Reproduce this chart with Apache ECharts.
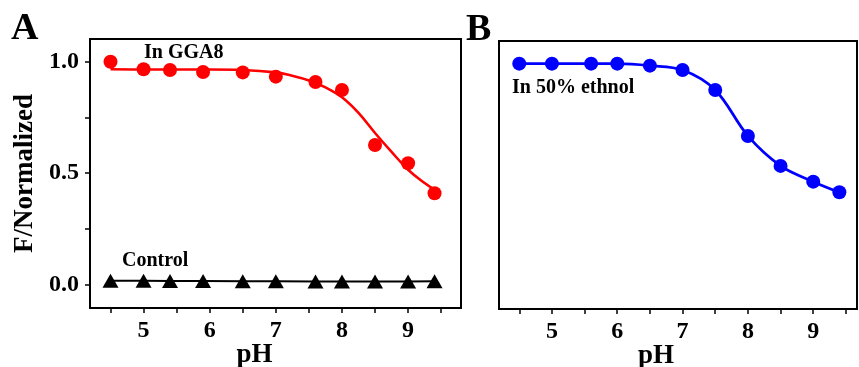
<!DOCTYPE html>
<html>
<head>
<meta charset="utf-8">
<script src="https://cdn.jsdelivr.net/npm/echarts@6/dist/echarts.min.js"></script>
<style>html,body{margin:0;padding:0;background:#fff;}#c{width:859px;height:367px;}</style>
</head>
<body>
<div id="c"></div>
<script>
// Panel A data
var phA = [4.5, 5.0, 5.4, 5.9, 6.5, 7.0, 7.6, 8.0, 8.5, 9.0, 9.4];
var gga8 = [1.0, 0.966, 0.963, 0.954, 0.952, 0.933, 0.909, 0.873, 0.626, 0.544, 0.409];
var control = [0.016, 0.016, 0.015, 0.015, 0.014, 0.014, 0.013, 0.013, 0.013, 0.013, 0.014];
// Fitted curve
var fitPH = [4.5, 5.0, 5.5, 6.0, 6.5, 7.0, 7.25, 7.5, 7.75, 8.0, 8.25, 8.5, 8.75, 9.0, 9.25, 9.4];
var fitVal = [0.966, 0.965, 0.965, 0.965, 0.963, 0.952, 0.937, 0.916, 0.885, 0.84, 0.77, 0.68, 0.595, 0.515, 0.455, 0.425];
// Panel B data
var phB = [4.5, 5.0, 5.6, 6.0, 6.5, 7.0, 7.5, 8.0, 8.5, 9.0, 9.4];
var ethanol = [1.0, 1.0, 1.0, 1.0, 0.991, 0.971, 0.881, 0.674, 0.539, 0.468, 0.420];
// Tick labels
var xTickLabels = [5, 6, 7, 8, 9];
var xTicks = [4.5, 5, 5.5, 6, 6.5, 7, 7.5, 8, 8.5, 9, 9.5];
var yTickLabels = [0, 0.5, 1.0];
var yTicks = [0, 0.25, 0.5, 0.75, 1.0];

function pairs(xs, ys) { return xs.map(function (x, i) { return [x, ys[i]]; }); }

var FONT = '"Liberation Serif", "Times New Roman", serif';
var chart = echarts.init(document.getElementById('c'));

function xAxisCfg(gi, max, padR) {
  return {
    type: 'value', gridIndex: gi, min: 4.19, max: max,
    name: 'pH', nameLocation: 'middle', nameGap: 34, nameMoveOverlap: false,
    nameTextStyle: { fontFamily: FONT, fontWeight: 'bold', fontSize: 27, color: '#000', padding: [0, padR, 0, 0] },
    axisLine: { show: true, onZero: false, lineStyle: { color: '#000', width: 2 } },
    axisTick: { show: true, length: 5, lineStyle: { color: '#000', width: 1.5 }, customValues: xTicks },
    axisLabel: { show: true, margin: 11, fontFamily: FONT, fontWeight: 'bold', fontSize: 24, color: '#000', customValues: xTickLabels },
    splitLine: { show: false }
  };
}

var option = {
  backgroundColor: '#fff',
  animation: false,
  grid: [
    { left: 90, top: 39, width: 371, height: 269, show: true, borderColor: '#000', borderWidth: 2, outerBoundsMode: 'none', containLabel: false },
    { left: 499, top: 41, width: 358, height: 268, show: true, borderColor: '#000', borderWidth: 2, outerBoundsMode: 'none', containLabel: false }
  ],
  xAxis: [ xAxisCfg(0, 9.8, 42), xAxisCfg(1, 9.67, 44) ],
  yAxis: [
    {
      type: 'value', gridIndex: 0, min: -0.106, max: 1.102,
      name: 'F/Normalized', nameLocation: 'middle', nameGap: 51, nameMoveOverlap: false,
      nameTextStyle: { fontFamily: FONT, fontWeight: 'bold', fontSize: 27, color: '#000' },
      axisLine: { show: true, onZero: false, lineStyle: { color: '#000', width: 2 } },
      axisTick: { show: true, length: 5, lineStyle: { color: '#000', width: 1.5 }, customValues: yTicks },
      axisLabel: { show: true, margin: 11, fontFamily: FONT, fontWeight: 'bold', fontSize: 24, color: '#000',
        customValues: yTickLabels, formatter: function (v) { return v.toFixed(1); } },
      splitLine: { show: false }
    },
    {
      type: 'value', gridIndex: 1, min: -0.106, max: 1.102,
      axisLine: { show: true, onZero: false, lineStyle: { color: '#000', width: 2 } },
      axisTick: { show: false }, axisLabel: { show: false }, splitLine: { show: false }
    }
  ],
  series: [
    { type: 'line', xAxisIndex: 0, yAxisIndex: 0, data: pairs(fitPH, fitVal), smooth: 0.4, showSymbol: false,
      lineStyle: { color: '#ff0000', width: 2.6 }, z: 2 },
    { type: 'scatter', xAxisIndex: 0, yAxisIndex: 0, data: pairs(phA, gga8), symbol: 'circle', symbolSize: 14,
      itemStyle: { color: '#ff0000', opacity: 1 }, z: 3 },
    { type: 'line', xAxisIndex: 0, yAxisIndex: 0, data: pairs(phA, control), symbol: 'triangle', symbolSize: [16, 14],
      showAllSymbol: true, itemStyle: { color: '#000' }, lineStyle: { color: '#000', width: 2 }, z: 3 },
    { type: 'line', xAxisIndex: 1, yAxisIndex: 1, data: pairs(phB, ethanol), smooth: 0.35, symbol: 'circle', symbolSize: 14,
      showAllSymbol: true, itemStyle: { color: '#0000ff' }, lineStyle: { color: '#0000ff', width: 2.8 }, z: 3 }
  ],
  graphic: [
    { type: 'text', left: 11, top: 10, style: { text: 'A', fontFamily: FONT, fontWeight: 'bold', fontSize: 38, fill: '#000' } },
    { type: 'text', left: 466, top: 11, style: { text: 'B', fontFamily: FONT, fontWeight: 'bold', fontSize: 38, fill: '#000' } },
    { type: 'text', x: 144, y: 53, style: { text: 'In GGA8', fontFamily: FONT, fontWeight: 'bold', fontSize: 20, fill: '#000', verticalAlign: 'middle' } },
    { type: 'text', x: 122, y: 261, style: { text: 'Control', fontFamily: FONT, fontWeight: 'bold', fontSize: 20, fill: '#000', verticalAlign: 'middle' } },
    { type: 'text', x: 512, y: 88, style: { text: 'In 50% ethnol', fontFamily: FONT, fontWeight: 'bold', fontSize: 20, fill: '#000', verticalAlign: 'middle' } }
  ]
};
chart.setOption(option);
</script>
</body>
</html>
